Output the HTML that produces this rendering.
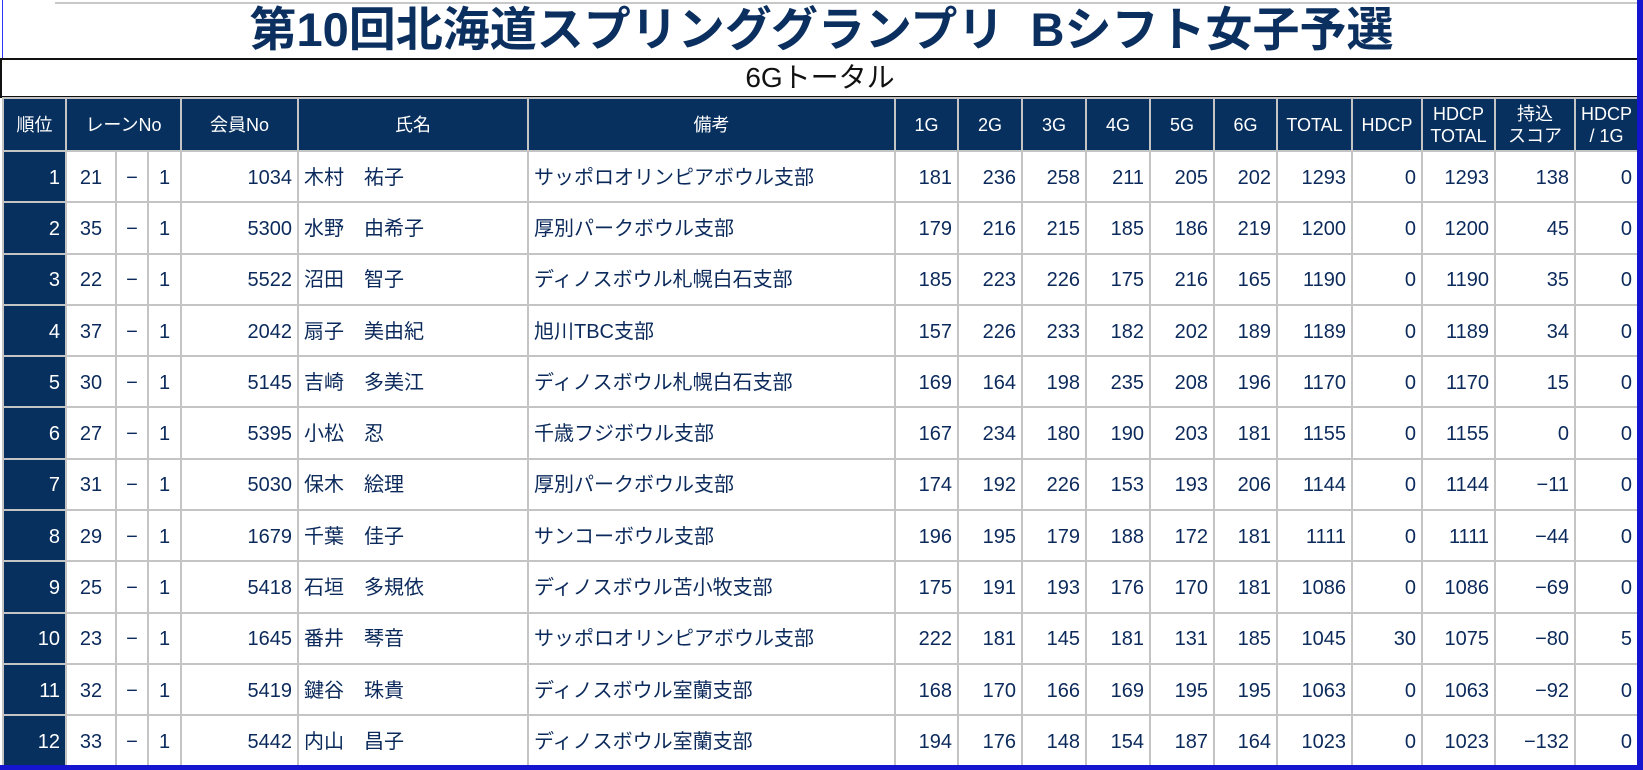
<!DOCTYPE html>
<html><head><meta charset="utf-8">
<style>
body{margin:0;width:1643px;height:770px;background:#fff;position:relative;overflow:hidden;font-family:"Liberation Sans","Noto Sans CJK JP",sans-serif;}
#title{position:absolute;left:0;top:0;width:1643px;height:58px;text-align:center;font-family:"Liberation Sans","Noto Sans CJK JP",sans-serif;font-weight:bold;font-size:47px;line-height:60px;color:#0b3060;white-space:pre;}
#topline{position:absolute;left:55px;top:2px;width:1582px;height:2px;background:#c8c8c8;}
#sub{position:absolute;left:0;top:58px;width:1636px;height:36px;border:2px solid #111;border-right:none;text-align:center;font-size:28px;line-height:36px;color:#111;}
#leftline{position:absolute;left:2px;top:0;width:1px;height:58px;background:#33f;}
table{position:absolute;left:2px;top:97px;border-collapse:collapse;table-layout:fixed;}
td,th{border:2px solid #c4c4c4;padding:0 5px;font-size:20px;color:#0b2a5b;white-space:nowrap;overflow:hidden;vertical-align:middle;line-height:24px;}
th{background:#07305f;color:#fff;font-weight:normal;font-size:18px;height:51px;line-height:22px;text-align:center;border-color:#c4c4c4;}
tbody tr{height:51.3px;}
td{height:47px;padding-top:2px;}
td.rk{background:#07305f;color:#fff;text-align:right;}
td.r{text-align:right;}
td.c{text-align:center;}
td.l{text-align:left;}
#rborder{position:absolute;left:1637px;top:0;width:6px;height:770px;background:#1515d0;}
#bborder{position:absolute;left:0;top:765px;width:1643px;height:5px;background:#1515d0;}
</style></head><body>
<div id="topline"></div>
<div id="leftline"></div>
<div id="title">第10回北海道スプリンググランプリ  Bシフト女子予選</div>
<div id="sub">6Gトータル</div>
<table id="tbl">
<colgroup>
<col style="width:63px"><col style="width:50px"><col style="width:32px"><col style="width:33px"><col style="width:117px"><col style="width:230px"><col style="width:367px"><col style="width:63px"><col style="width:64px"><col style="width:64px"><col style="width:64px"><col style="width:64px"><col style="width:63px"><col style="width:75px"><col style="width:70px"><col style="width:73px"><col style="width:80px"><col style="width:63px">
</colgroup>
<thead><tr>
<th>順位</th>
<th colspan="3">レーンNo</th>
<th>会員No</th>
<th>氏名</th>
<th>備考</th>
<th>1G</th>
<th>2G</th>
<th>3G</th>
<th>4G</th>
<th>5G</th>
<th>6G</th>
<th>TOTAL</th>
<th>HDCP</th>
<th>HDCP<br>TOTAL</th>
<th>持込<br>スコア</th>
<th>HDCP<br>/ 1G</th>
</tr></thead>
<tbody id="tb"></tbody>
</table>
<div id="rborder"></div>
<div id="bborder"></div>
<script>
const lanes=[21,35,22,37,30,27,31,29,25,23,32,33];
const memberNos=[1034,5300,5522,2042,5145,5395,5030,1679,5418,1645,5419,5442];
const names=["木村　祐子","水野　由希子","沼田　智子","扇子　美由紀","吉崎　多美江","小松　忍","保木　絵理","千葉　佳子","石垣　多規依","番井　琴音","鍵谷　珠貴","内山　昌子"];
const clubs=["サッポロオリンピアボウル支部","厚別パークボウル支部","ディノスボウル札幌白石支部","旭川TBC支部","ディノスボウル札幌白石支部","千歳フジボウル支部","厚別パークボウル支部","サンコーボウル支部","ディノスボウル苫小牧支部","サッポロオリンピアボウル支部","ディノスボウル室蘭支部","ディノスボウル室蘭支部"];
const g1=[181,179,185,157,169,167,174,196,175,222,168,194];
const g2=[236,216,223,226,164,234,192,195,191,181,170,176];
const g3=[258,215,226,233,198,180,226,179,193,145,166,148];
const g4=[211,185,175,182,235,190,153,188,176,181,169,154];
const g5=[205,186,216,202,208,203,193,172,170,131,195,187];
const g6=[202,219,165,189,196,181,206,181,181,185,195,164];
const totals=[1293,1200,1190,1189,1170,1155,1144,1111,1086,1045,1063,1023];
const hdcp=[0,0,0,0,0,0,0,0,0,30,0,0];
const hdcpTotals=[1293,1200,1190,1189,1170,1155,1144,1111,1086,1075,1063,1023];
const carry=[138,45,35,34,15,0,-11,-44,-69,-80,-92,-132];
const hdcpPerGame=[0,0,0,0,0,0,0,0,0,5,0,0];
const tb=document.getElementById('tb');
function cell(tr,txt,cls,name){
  const td=document.createElement('td');
  td.className=cls;td.textContent=txt;
  
  
  tr.appendChild(td);
}
const fmt=v=>v<0?'−'+(-v):String(v);
for(let i=0;i<lanes.length;i++){
  const tr=document.createElement('tr');
  
  
  cell(tr,i+1,'rk','rank-cell');
  cell(tr,lanes[i],'c','lane-cell');
  cell(tr,'−','c','lane-dash');
  cell(tr,'1','c','lane-sub-cell');
  cell(tr,memberNos[i],'r','member-no-cell');
  cell(tr,names[i],'l','name-cell');
  cell(tr,clubs[i],'l','remarks-cell');
  cell(tr,g1[i],'r','game1-cell');
  cell(tr,g2[i],'r','game2-cell');
  cell(tr,g3[i],'r','game3-cell');
  cell(tr,g4[i],'r','game4-cell');
  cell(tr,g5[i],'r','game5-cell');
  cell(tr,g6[i],'r','game6-cell');
  cell(tr,totals[i],'r','total-cell');
  cell(tr,hdcp[i],'r','hdcp-cell');
  cell(tr,hdcpTotals[i],'r','hdcp-total-cell');
  cell(tr,fmt(carry[i]),'r','carry-score-cell');
  cell(tr,hdcpPerGame[i],'r','hdcp-per-game-cell');
  tb.appendChild(tr);
}
</script>
</body></html>
